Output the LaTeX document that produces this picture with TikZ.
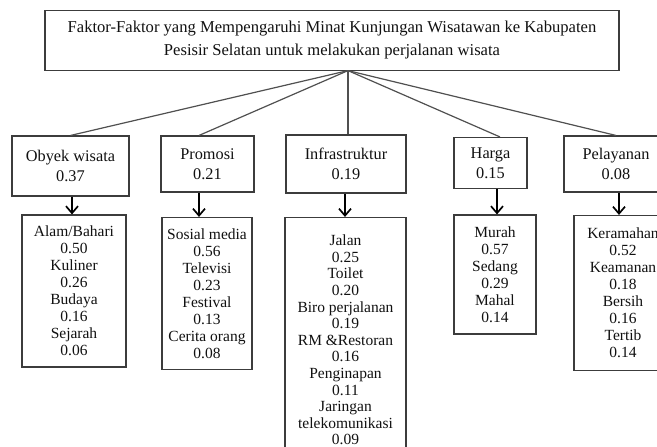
\documentclass[tikz,border=0pt]{standalone}
\usepackage{fontspec}
\setmainfont{Liberation Serif}
\usetikzlibrary{arrows.meta}
\definecolor{boxc}{HTML}{3C3C3C}
\definecolor{linec}{HTML}{505050}
\definecolor{txtc}{HTML}{111111}
\begin{document}
\begin{tikzpicture}[x=1pt,y=-1pt,
  box/.style={draw=boxc, line width=1.1pt, inner sep=0pt, align=center, text=txtc},
  topbox/.style={box, font=\fontsize{16.6}{23}\selectfont},
  catbox/.style={box, font=\fontsize{16.3}{20}\selectfont},
  subbox/.style={box, font=\fontsize{15.5}{17}\selectfont},
  conn/.style={draw=linec, line width=1.2pt},
  arr/.style={draw=black, line width=1.7pt, -{Straight Barb[length=7pt,width=12pt,line width=1.7pt]}}
]
\path[use as bounding box] (0,0) rectangle (657,447);
\clip (0,0) rectangle (657,447);
\fill[white] (0,0) rectangle (657,447);

% top box
\node[topbox, minimum width=574pt, minimum height=59.5pt] (top) at (332,40.3)
  {Faktor-Faktor yang Mempengaruhi Minat Kunjungan Wisatawan ke Kabupaten\\Pesisir Selatan untuk melakukan perjalanan wisata};
\coordinate (fan) at ([xshift=16pt]top.south);

% category boxes
\node[catbox, minimum width=117pt, minimum height=60pt] (ob) at (70.5,166) {Obyek wisata\\0.37};
\node[catbox, minimum width=93pt, minimum height=56pt] (pr) at (207.5,164) {Promosi\\0.21};
\node[catbox, minimum width=120pt, minimum height=58pt] (in) at (346,164) {Infrastruktur\\0.19};
\node[catbox, minimum width=73pt, minimum height=51pt] (ha) at (490.5,163) {Harga\\0.15};
\node[catbox, minimum width=104pt, minimum height=56pt] (pe) at (616,164) {Pelayanan\\0.08};

% sub boxes
\node[subbox, minimum width=104pt, minimum height=152pt] (obs) at (74,291)
  {Alam/Bahari\\0.50\\Kuliner\\0.26\\Budaya\\0.16\\Sejarah\\0.06};
\node[subbox, minimum width=90pt, minimum height=152pt] (prs) at (207,293.5)
  {Sosial media\\0.56\\Televisi\\0.23\\Festival\\0.13\\Cerita orang\\0.08};
\node[subbox, font=\fontsize{15.5}{16.6}\selectfont, minimum width=121pt, minimum height=245pt] (ins) at (345.5,340)
  {Jalan\\0.25\\Toilet\\0.20\\Biro perjalanan\\0.19\\RM \&Restoran\\0.16\\Penginapan\\0.11\\Jaringan\\telekomunikasi\\0.09};
\node[subbox, minimum width=82pt, minimum height=119pt] (has) at (495,274.5)
  {Murah\\0.57\\Sedang\\0.29\\Mahal\\0.14};
\node[subbox, minimum width=98pt, minimum height=155pt] (pes) at (623,293)
  {Keramahan\\0.52\\Keamanan\\0.18\\Bersih\\0.16\\Tertib\\0.14};

% connectors from top
\coordinate (c2) at (199,0);
\coordinate (c4) at (500,0);
\draw[conn] (fan) -- (ob.north);
\draw[conn] (fan) -- (pr.north -| c2);
\draw[conn] (fan) -- (fan |- in.north);
\draw[conn] (fan) -- (ha.north -| c4);
\draw[conn] (fan) -- (pe.north);

% arrows
\coordinate (a1) at (72,0);
\coordinate (a2) at (199,0);
\coordinate (a3) at (345,0);
\coordinate (a4) at (497,0);
\coordinate (a5) at (619,0);
\draw[arr] (ob.south -| a1) -- (obs.north -| a1);
\draw[arr] (pr.south -| a2) -- (prs.north -| a2);
\draw[arr] (in.south -| a3) -- (ins.north -| a3);
\draw[arr] (ha.south -| a4) -- (has.north -| a4);
\draw[arr] (pe.south -| a5) -- (pes.north -| a5);
\end{tikzpicture}
\end{document}
